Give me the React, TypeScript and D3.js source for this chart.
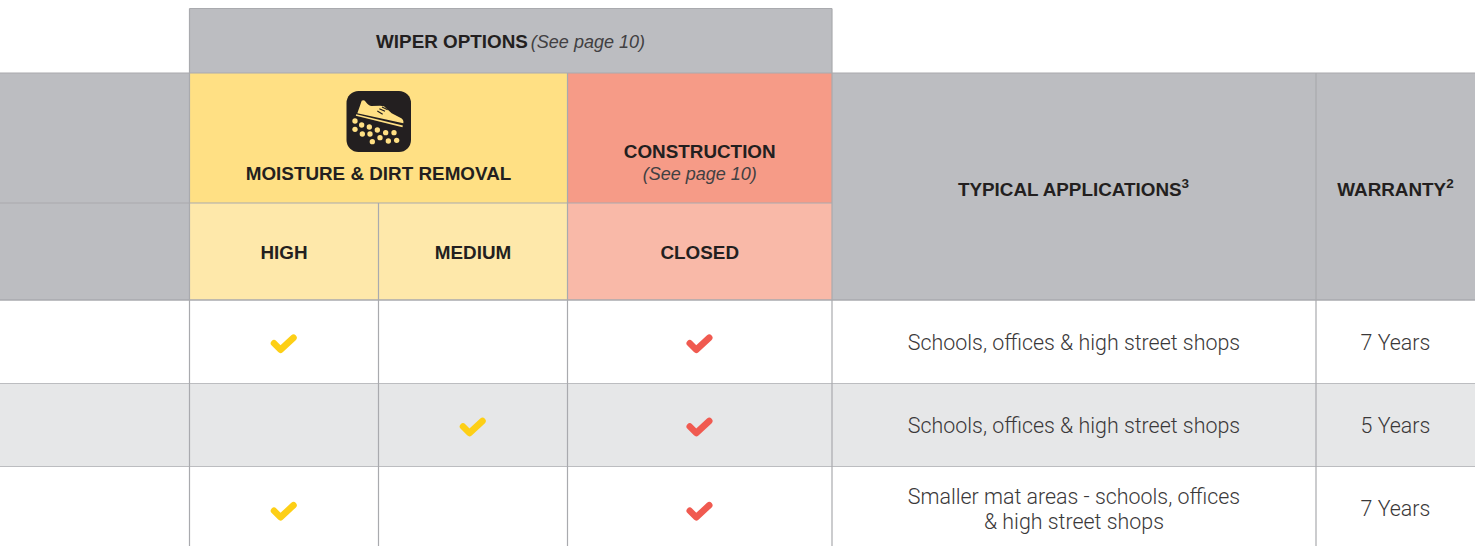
import React from "react";
import * as d3 from "d3";

const columns = ["label", "high", "medium", "closed", "applications", "warranty"];
const columnEdges = [0, 189.5, 378.5, 567.5, 832, 1316, 1475];
const rowEdges = [8.5, 73, 203, 300, 383.5, 466.5, 560];
const rowNames = ["r0", "r1", "r2"];
const highChecks = [1, 0, 1];
const mediumChecks = [0, 1, 0];
const closedChecks = [1, 1, 1];
const applications = [["Schools, offices & high street shops"], ["Schools, offices & high street shops"], ["Smaller mat areas - schools, offices", "& high street shops"]];
const warranties = ["7 Years", "5 Years", "7 Years"];

const x = d3.scaleOrdinal<string, number>().domain([...columns, "end"]).range(columnEdges);
const y = d3.scaleLinear().domain([0, 1, 2, 3, 4, 5, 6]).range(rowEdges);

const GREY = "#bcbdc1", LINE = "#a9aaae", INK = "#231f20";
const YEL = "#ffe084", YEL2 = "#fee8aa", RED = "#f69b87", RED2 = "#f9b9a8";
const sans = "'Liberation Sans', Arial, sans-serif";
const check = d3.line()([[-10, -0.5], [-3.5, 6], [9.5, -6]]) as string;

const Cell = ({ x0, x1, y0, y1, fill }: any) => (
  <rect x={x(x0)} width={x(x1)! - x(x0)!} y={y(y0)} height={y(y1) - y(y0)} fill={fill} />
);
const cx = (a: string, b: string) => (x(a)! + x(b)!) / 2;

const Bold = ({ tx, ty, children, size = 18.85 }: any) => (
  <text x={tx} y={ty} textAnchor="middle" fontFamily={sans} fontWeight={700} fontSize={size} fill={INK}>{children}</text>
);

const dropDots: [number, number][] = [[105, 108], [125, 120], [148, 126], [172, 135], [197, 143], [222, 143], [105, 133], [127, 147], [150, 147], [180, 158], [157, 170], [205, 168], [230, 166]];
const bodyFont = "Roboto, sans-serif";

export default function App() {
  return (
    <svg width={1480} height={546} style={{ position: "absolute", left: 0, top: 0, background: "#fff" }}>
      <Cell x0="high" x1="applications" y0={0} y1={1} fill={GREY} />
      <Cell x0="label" x1="high" y0={1} y1={3} fill={GREY} />
      <Cell x0="high" x1="closed" y0={1} y1={2} fill={YEL} />
      <Cell x0="closed" x1="applications" y0={1} y1={2} fill={RED} />
      <Cell x0="high" x1="closed" y0={2} y1={3} fill={YEL2} />
      <Cell x0="closed" x1="applications" y0={2} y1={3} fill={RED2} />
      <Cell x0="applications" x1="end" y0={1} y1={3} fill={GREY} />
      <Cell x0="label" x1="end" y0={4} y1={5} fill="#e6e7e8" />

      <g stroke={LINE} strokeWidth={1.2} fill="none">
        <path d={`M${x("high")},${y(0)}H${x("applications")}`} />
        <path d={`M0,${y(1)}H${x("end")}`} />
        <path d={`M0,${y(2)}H${x("applications")}`} />
        <path d={`M0,${y(3)}H${x("end")}`} strokeWidth={1.5} />
      </g>
      <g stroke="#bcbdc0" strokeWidth={1.2} fill="none">
        <path d={`M0,${y(4)}H${x("end")}`} />
        <path d={`M0,${y(5)}H${x("end")}`} />
      </g>
      <g stroke={LINE} strokeWidth={1.2} fill="none">
        <path d={`M${x("high")},${y(0)}V546`} />
        <path d={`M${x("medium")},${y(2)}V546`} />
        <path d={`M${x("closed")},${y(1)}V546`} />
        <path d={`M${x("applications")},${y(0)}V546`} />
        <path d={`M${x("warranty")},${y(1)}V546`} />
      </g>

      <text x={510.5} y={48} textAnchor="middle" fontFamily={sans} fontSize={18.85} fill={INK}>
        <tspan fontWeight={700}>WIPER OPTIONS</tspan>
        <tspan dx={3} fontStyle="italic" fontSize={18} fill="#414042">(See page 10)</tspan>
      </text>

      <rect x={346.5} y={91} width={64.5} height={61} rx={12} fill={INK} />
      <g transform="translate(320,85) scale(0.3333)">
        <path d="M112 85 L120 62 L125 47 Q132 44 137 50 Q145 62 155 63 L180 62 L192 64 L215 85 L244 100 Q252 106 250 115 Z" fill={YEL} />
        <path d="M108 90 L248 124" stroke={YEL} strokeWidth={5} fill="none" />
        <path d="M178 71 L195 79 M186 66 L203 74 M172 78 L188 88" stroke={INK} strokeWidth={3.5} fill="none" />
        {dropDots.map(([a, b], i) => <circle key={i} cx={a} cy={b} r={8} fill={YEL} />)}
      </g>

      <Bold tx={378.5} ty={180}>MOISTURE &amp; DIRT REMOVAL</Bold>
      <Bold tx={cx("closed", "applications")} ty={158}>CONSTRUCTION</Bold>
      <text x={cx("closed", "applications")} y={180} textAnchor="middle" fontFamily={sans} fontStyle="italic" fontSize={18} fill="#414042">(See page 10)</text>
      <Bold tx={cx("high", "medium")} ty={259}>HIGH</Bold>
      <Bold tx={cx("medium", "closed")} ty={259}>MEDIUM</Bold>
      <Bold tx={cx("closed", "applications")} ty={259}>CLOSED</Bold>
      <Bold tx={1073.5} ty={196}>TYPICAL APPLICATIONS<tspan fontSize={13.5} dy={-8}>3</tspan></Bold>
      <Bold tx={1395.5} ty={196}>WARRANTY<tspan fontSize={13.5} dy={-8}>2</tspan></Bold>

      {rowNames.map((r, i) => {
        const mid = (y(i + 3) + Math.min(y(i + 4), 550)) / 2;
        const lines = applications[i];
        const mark = (col: string, next: string, color: string) => (
          <path d={check} transform={`translate(${cx(col, next)},${mid + (i === 2 ? 3 : 2)})`} stroke={color} strokeWidth={6.5} strokeLinecap="round" strokeLinejoin="round" fill="none" />
        );
        return (
          <g key={r}>
            {highChecks[i] ? mark("high", "medium", "#fdcf16") : null}
            {mediumChecks[i] ? mark("medium", "closed", "#fdcf16") : null}
            {closedChecks[i] ? mark("closed", "applications", "#f05a50") : null}
            {lines.map((t, j) => (
              <text key={j} x={cx("applications", "warranty")} y={lines.length > 1 ? 504 + j * 25 : mid + 8} textAnchor="middle" fontFamily={bodyFont} fontWeight={300} fontSize={21.4} fill="#3a3839">{t}</text>
            ))}
            <text x={cx("warranty", "end")} y={i === 2 ? 516 : mid + 8} textAnchor="middle" fontFamily={bodyFont} fontWeight={300} fontSize={21.4} fill="#3a3839">{warranties[i]}</text>
          </g>
        );
      })}
    </svg>
  );
}
